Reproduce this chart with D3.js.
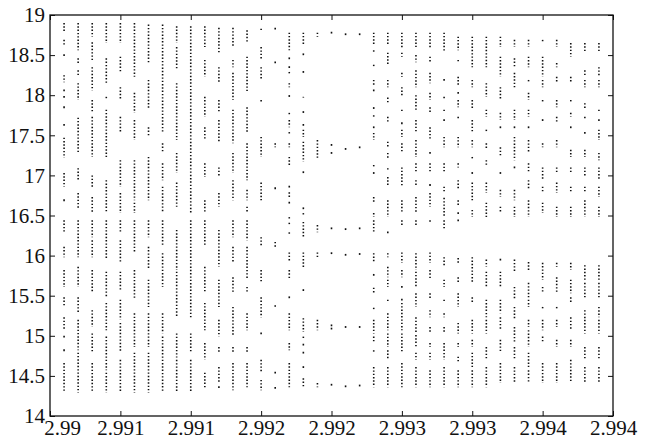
<!DOCTYPE html>
<html>
<head>
<meta charset="utf-8">
<script src="https://cdn.jsdelivr.net/npm/d3@7"></script>
<style>
  html, body { margin: 0; padding: 0; background: #fff; }
  svg { display: block; }
</style>
</head>
<body>
<svg id="chart" width="645" height="437"></svg>
<script>
// Parameter value of each sampled column
const params = [2.9901, 2.9902, 2.9903, 2.9904, 2.9905, 2.9906, 2.9907, 2.9908, 2.9909, 2.9910,
  2.9911, 2.9912, 2.9913, 2.9914, 2.9915, 2.9916, 2.9917, 2.9918, 2.9919, 2.9920,
  2.9921, 2.9922, 2.9923, 2.9924, 2.9925, 2.9926, 2.9927, 2.9928, 2.9929, 2.9930,
  2.9931, 2.9932, 2.9933, 2.9934, 2.9935, 2.9936, 2.9937, 2.9938, 2.9939];

// For each column: runs of attractor points [upper value, lower value]
const columnRuns = [
  [[18.90,18.78],[18.69,18.63],[18.50,18.50],[18.25,18.16],[18.06,18.06],[17.98,17.98],[17.85,17.85],[17.63,17.63],[17.47,17.22],[17.03,16.86],[16.69,16.69],[16.44,16.28],[16.11,15.98],[15.82,15.61],[15.48,15.36],[15.23,15.07],[14.99,14.99],[14.82,14.82],[14.66,14.29]],
  [[18.90,18.56],[18.46,18.40],[18.31,18.23],[18.15,17.94],[17.72,17.28],[17.09,16.94],[16.78,16.59],[16.44,15.98],[15.86,15.61],[15.48,15.28],[15.20,14.82],[14.79,14.29]],
  [[18.90,18.73],[18.66,18.44],[18.35,18.06],[17.94,17.78],[17.73,17.23],[17.00,16.86],[16.73,16.53],[16.44,16.23],[16.19,15.98],[15.82,15.53],[15.32,15.11],[15.03,14.79],[14.66,14.29]],
  [[18.90,18.65],[18.46,18.15],[17.98,17.94],[17.82,17.23],[16.94,16.53],[16.44,15.95],[15.80,15.48],[15.41,15.07],[14.99,14.57],[14.54,14.29]],
  [[18.90,18.65],[18.48,18.28],[18.10,17.94],[17.73,17.53],[17.19,16.86],[16.78,16.53],[16.44,16.28],[16.19,15.91],[15.80,15.57],[15.45,15.20],[15.16,14.79],[14.70,14.29]],
  [[18.90,18.23],[18.03,17.78],[17.69,17.44],[17.19,16.69],[16.66,16.53],[16.44,16.03],[15.82,15.45],[15.28,14.86],[14.79,14.29]],
  [[18.88,18.40],[18.19,17.82],[17.60,17.48],[17.23,16.69],[16.44,16.23],[16.11,15.82],[15.70,15.36],[15.28,14.86],[14.79,14.29]],
  [[18.88,17.53],[17.40,17.28],[17.15,16.94],[16.86,16.53],[16.44,16.11],[16.03,15.61],[15.28,15.03],[14.99,14.29]],
  [[18.86,18.65],[18.60,18.31],[18.15,17.44],[17.28,17.03],[16.91,16.61],[16.32,15.82],[15.80,15.23],[15.03,14.73],[14.70,14.29]],
  [[18.86,16.53],[16.44,15.23],[15.03,14.79],[14.70,14.29]],
  [[18.86,18.60],[18.44,18.23],[17.98,17.73],[17.60,17.44],[17.15,16.98],[16.69,16.53],[16.44,16.11],[15.86,15.53],[15.41,15.07],[14.91,14.70],[14.54,14.36]],
  [[18.84,18.53],[18.35,18.15],[17.94,17.78],[17.69,17.40],[17.10,16.98],[16.78,16.61],[16.32,15.86],[15.70,15.36],[15.20,14.99],[14.86,14.79],[14.61,14.41],[14.36,14.36]],
  [[18.84,18.60],[18.44,18.35],[18.28,17.94],[17.82,17.40],[17.28,17.03],[16.94,16.69],[16.44,16.23],[16.11,15.91],[15.73,15.53],[15.36,14.99],[14.86,14.79],[14.66,14.32]],
  [[18.81,18.65],[18.48,18.03],[17.85,17.53],[17.40,16.94],[16.82,16.69],[16.61,16.53],[16.44,16.19],[16.11,15.70],[15.61,15.53],[15.28,15.07],[14.86,14.79],[14.66,14.36]],
  [[18.83,18.79],[18.60,18.44],[18.35,18.19],[17.94,17.90],[17.48,17.23],[16.91,16.69],[16.23,16.11],[15.82,15.66],[15.48,15.23],[15.03,15.03],[14.70,14.54],[14.45,14.32]],
  [[18.83,18.83],[18.41,18.41],[17.40,17.35],[16.84,16.84],[16.17,16.11],[15.38,15.36],[14.54,14.54],[14.35,14.35]],
  [[18.78,18.56],[18.46,18.46],[18.35,18.35],[18.29,18.26],[18.15,18.10],[17.99,17.99],[17.78,17.75],[17.69,17.60],[17.54,17.50],[17.40,17.35],[17.23,17.13],[16.86,16.86],[16.79,16.73],[16.66,16.66],[16.48,16.44],[16.41,16.38],[16.29,16.25],[16.04,15.92],[15.82,15.70],[15.48,15.48],[15.28,15.07],[14.91,14.82],[14.66,14.36]],
  [[18.78,18.63],[18.51,18.51],[18.29,18.29],[17.98,17.97],[17.79,17.79],[17.63,17.63],[17.57,17.48],[17.42,17.17],[17.04,17.04],[16.59,16.59],[16.53,16.51],[16.42,16.23],[16.04,15.85],[15.57,15.57],[15.22,15.05],[14.99,14.95],[14.89,14.89],[14.79,14.79],[14.61,14.61],[14.47,14.36]],
  [[18.78,18.73],[17.44,17.22],[16.38,16.29],[16.04,15.97],[15.20,15.07],[14.41,14.36]],
  [[18.78,18.78],[17.38,17.38],[17.28,17.28],[16.34,16.34],[16.03,16.03],[15.13,15.13],[15.09,15.09],[14.39,14.39]],
  [[18.76,18.76],[17.33,17.33],[16.33,16.33],[16.01,16.01],[15.11,15.11],[14.37,14.37]],
  [[18.76,18.76],[17.35,17.35],[16.34,16.34],[16.02,16.02],[15.11,15.11],[14.38,14.38]],
  [[18.78,18.63],[18.56,18.53],[18.38,18.34],[18.19,18.13],[18.06,18.06],[17.84,17.84],[17.75,17.73],[17.60,17.60],[17.53,17.44],[17.13,17.10],[17.03,17.03],[16.73,16.66],[16.53,16.48],[16.44,16.28],[16.03,15.91],[15.76,15.76],[15.60,15.53],[15.35,15.32],[15.20,15.03],[14.99,14.91],[14.82,14.80],[14.61,14.36]],
  [[18.78,18.63],[18.53,18.38],[18.19,18.10],[17.97,17.90],[17.73,17.65],[17.42,17.35],[17.28,17.22],[17.09,17.07],[16.98,16.86],[16.69,16.48],[16.29,16.29],[16.03,15.98],[15.86,15.73],[15.70,15.61],[15.45,15.41],[15.28,15.07],[15.03,14.86],[14.82,14.70],[14.61,14.36]],
  [[18.78,18.59],[18.53,18.48],[18.28,18.23],[18.10,17.98],[17.82,17.78],[17.65,17.65],[17.57,17.48],[17.40,17.28],[17.10,16.86],[16.69,16.53],[16.44,16.36],[16.04,15.91],[15.82,15.73],[15.61,15.61],[15.45,15.45],[15.41,15.07],[15.03,14.79],[14.66,14.36]],
  [[18.78,18.60],[18.50,18.41],[18.31,18.10],[18.00,17.82],[17.69,17.53],[17.44,17.23],[17.15,17.03],[16.94,16.86],[16.73,16.53],[16.44,16.36],[16.03,15.82],[15.80,15.61],[15.53,15.36],[15.23,15.03],[15.01,14.86],[14.79,14.70],[14.61,14.36]],
  [[18.78,18.59],[18.48,18.40],[18.28,18.15],[18.03,17.94],[17.85,17.79],[17.60,17.44],[17.28,17.28],[17.15,17.03],[16.88,16.88],[16.78,16.61],[16.44,16.41],[16.04,15.91],[15.82,15.70],[15.53,15.45],[15.32,15.23],[15.11,15.03],[14.91,14.86],[14.79,14.70],[14.57,14.36]],
  [[18.78,18.54],[18.19,18.19],[17.98,17.94],[17.82,17.78],[17.69,17.69],[17.48,17.35],[17.15,17.03],[16.86,16.79],[16.72,16.48],[16.44,16.32],[15.98,15.86],[15.70,15.61],[15.45,15.41],[15.28,15.23],[15.11,15.03],[14.91,14.70],[14.61,14.36]],
  [[18.73,18.56],[18.44,18.40],[18.23,18.13],[18.03,18.03],[17.94,17.85],[17.73,17.69],[17.48,17.35],[17.15,17.10],[16.94,16.82],[16.69,16.61],[16.53,16.53],[16.44,16.44],[15.97,15.91],[15.73,15.66],[15.53,15.36],[15.16,15.03],[14.91,14.86],[14.74,14.66],[14.57,14.36]],
  [[18.73,18.35],[18.19,18.10],[17.94,17.82],[17.69,17.53],[17.44,17.35],[17.23,17.19],[17.03,17.03],[16.91,16.69],[16.57,16.48],[15.98,15.66],[15.48,15.41],[15.20,15.03],[14.95,14.86],[14.79,14.61],[14.57,14.36]],
  [[18.73,18.35],[18.15,17.98],[17.82,17.73],[17.57,17.53],[17.40,17.32],[17.19,17.13],[16.91,16.78],[16.66,16.48],[15.95,15.86],[15.80,15.61],[15.45,15.23],[15.20,15.03],[14.86,14.70],[14.61,14.36]],
  [[18.73,18.60],[18.48,18.23],[18.10,17.94],[17.78,17.69],[17.60,17.60],[17.35,17.23],[17.03,17.03],[16.82,16.73],[16.61,16.53],[15.95,15.95],[15.80,15.61],[15.45,15.28],[15.23,15.07],[14.95,14.79],[14.66,14.41]],
  [[18.69,18.60],[18.46,18.35],[18.28,18.10],[17.82,17.69],[17.60,17.60],[17.48,17.19],[17.10,17.10],[16.82,16.69],[16.61,16.48],[15.95,15.80],[15.61,15.45],[15.36,15.20],[15.11,14.91],[14.86,14.70],[14.61,14.41]],
  [[18.69,18.60],[18.48,18.35],[18.19,18.15],[18.03,17.94],[17.82,17.73],[17.60,17.60],[17.44,17.28],[17.15,17.03],[16.94,16.82],[16.69,16.48],[15.92,15.80],[15.66,15.48],[15.45,15.36],[15.20,15.11],[15.07,14.86],[14.79,14.61],[14.57,14.41]],
  [[18.69,18.65],[18.48,18.23],[18.19,18.10],[17.94,17.90],[17.69,17.69],[17.40,17.35],[17.10,16.94],[16.86,16.78],[16.66,16.53],[15.91,15.70],[15.61,15.53],[15.36,15.32],[15.20,15.07],[14.99,14.91],[14.66,14.41]],
  [[18.69,18.60],[18.40,18.35],[18.23,18.15],[17.94,17.85],[17.73,17.65],[17.44,17.35],[17.10,17.03],[16.91,16.78],[16.61,16.48],[15.91,15.86],[15.73,15.53],[15.36,15.32],[15.20,15.11],[14.95,14.86],[14.66,14.41]],
  [[18.65,18.48],[18.23,18.15],[17.94,17.90],[17.78,17.73],[17.60,17.60],[17.32,17.23],[17.10,17.03],[16.86,16.78],[16.61,16.48],[15.91,15.82],[15.70,15.53],[15.48,15.41],[15.23,15.07],[14.95,14.86],[14.70,14.41]],
  [[18.65,18.53],[18.31,18.23],[18.19,18.10],[17.90,17.82],[17.73,17.69],[17.53,17.53],[17.32,17.23],[17.10,16.98],[16.86,16.78],[16.69,16.48],[15.88,15.70],[15.66,15.48],[15.32,15.20],[15.20,15.03],[14.86,14.70],[14.61,14.41]],
  [[18.65,18.53],[18.35,18.23],[18.19,18.10],[17.82,17.78],[17.69,17.69],[17.57,17.44],[17.28,17.19],[17.10,16.94],[16.86,16.73],[16.61,16.48],[15.88,15.70],[15.66,15.48],[15.36,15.23],[15.20,15.03],[14.86,14.70],[14.61,14.41]]
];

const xTickValues = [2.99, 2.9905, 2.991, 2.9915, 2.992, 2.9925, 2.993, 2.9935, 2.994];
const xTickLabels = ["2.99", "2.991", "2.991", "2.992", "2.992", "2.993", "2.993", "2.994", "2.994"];
const yTickValues = [14, 14.5, 15, 15.5, 16, 16.5, 17, 17.5, 18, 18.5, 19];
const yTickLabels = ["14", "14.5", "15", "15.5", "16", "16.5", "17", "17.5", "18", "18.5", "19"];

const W = 645, H = 437;
const margin = { left: 50, right: 32, top: 15, bottom: 21 };
const FONT = "'Liberation Serif', 'Times New Roman', Times, serif";
const svg = d3.select("#chart");
svg.append("rect").attr("width", W).attr("height", H).attr("fill", "#fff");

const x = d3.scaleLinear().domain([2.99, 2.994]).range([margin.left, W - margin.right]);
const y = d3.scaleLinear().domain([14, 19]).range([H - margin.bottom, margin.top]);

// flatten runs
const runs = [];
columnRuns.forEach((col, i) => col.forEach(r => runs.push({ p: params[i], a: r[0], b: r[1] })));

const g = svg.append("g");
g.selectAll("line.run").data(runs).enter().append("line")
  .attr("class", "run")
  .attr("x1", d => x(d.p)).attr("x2", d => x(d.p))
  .attr("y1", d => d.a === d.b ? y(d.a) - 0.9 : y(d.a))
  .attr("y2", d => d.a === d.b ? y(d.b) + 0.9 : y(d.b))
  .attr("stroke", "#111")
  .attr("stroke-width", 1.6)
  .attr("stroke-dasharray", d => d.a === d.b ? null : "1.4,1.9");

// axes (MATLAB style box with inward ticks)
const fmtX = (d, i) => xTickLabels[i];
const fmtY = (d, i) => yTickLabels[i];

const axB = svg.append("g").attr("transform", `translate(0,${y(14)})`)
  .call(d3.axisBottom(x).tickValues(xTickValues).tickFormat(fmtX).tickSize(-5).tickSizeOuter(0).tickPadding(4));
const axT = svg.append("g").attr("transform", `translate(0,${y(19)})`)
  .call(d3.axisTop(x).tickValues(xTickValues).tickFormat("").tickSize(-5).tickSizeOuter(0));
const axL = svg.append("g").attr("transform", `translate(${x(2.99)},0)`)
  .call(d3.axisLeft(y).tickValues(yTickValues).tickFormat(fmtY).tickSize(-5).tickSizeOuter(0).tickPadding(5));
const axR = svg.append("g").attr("transform", `translate(${x(2.994)},0)`)
  .call(d3.axisRight(y).tickValues(yTickValues).tickFormat("").tickSize(-5).tickSizeOuter(0));

[axB, axT, axL, axR].forEach(a => {
  a.attr("font-family", FONT).attr("font-size", 21);
  a.selectAll(".domain").remove();
  a.selectAll(".tick line").attr("stroke", "#111").attr("stroke-width", 1);
  a.selectAll(".tick text").attr("fill", "#111").style("font-family", FONT).style("font-size", "21px");
});
axB.select(".tick text").attr("dx", "12");

svg.append("rect")
  .attr("x", x(2.99)).attr("y", y(19))
  .attr("width", x(2.994) - x(2.99)).attr("height", y(14) - y(19))
  .attr("fill", "none").attr("stroke", "#111").attr("stroke-width", 1.3);
</script>
</body>
</html>
